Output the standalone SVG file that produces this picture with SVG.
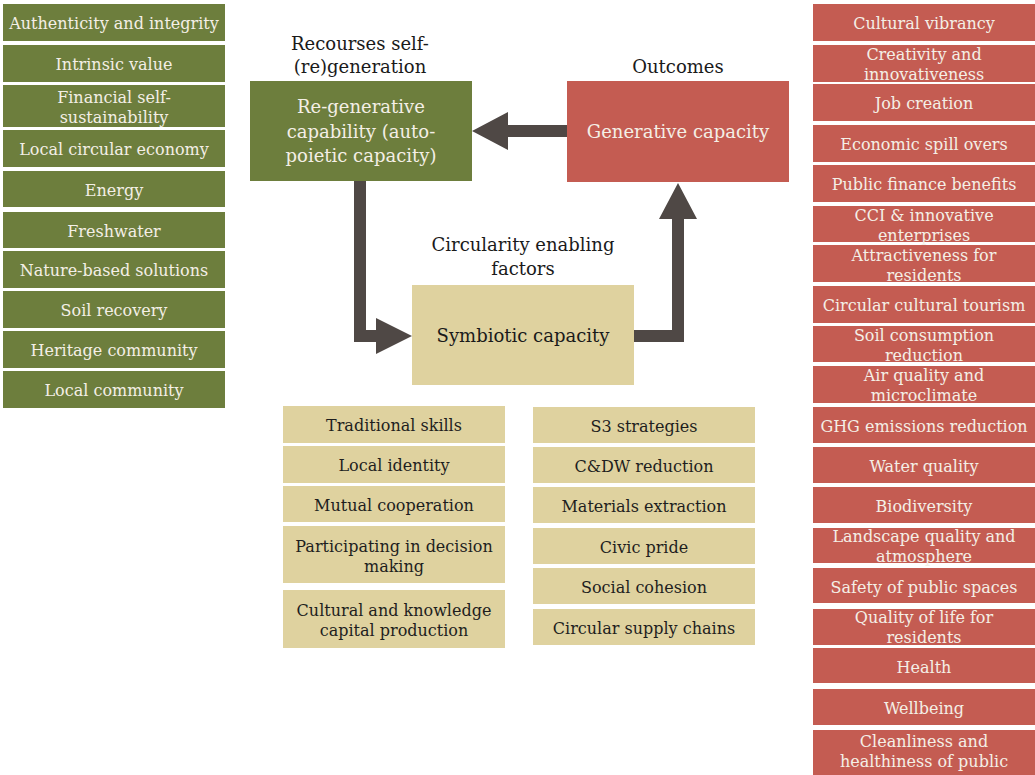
<svg xmlns="http://www.w3.org/2000/svg" width="1035" height="775" viewBox="0 0 1035 775">
<style>
text{font-family:"DejaVu Serif","Liberation Serif",serif;text-anchor:middle}
.g{fill:#6d7e3d}
.r{fill:#c45c52}
.t{fill:#dfd29f}
.lt{font-size:16px;fill:#f4efe6}
.dk{font-size:16px;fill:#1e1e1e}
.big{font-size:18px}
.bw{fill:#f4efe6}
.bk{fill:#1a1a1a}
.arr{fill:#4f4845}
</style>
<rect width="1035" height="775" fill="#ffffff"/>
<g id="connectors">
<polygon class="arr" points="567,125 508,125 508,112 472,131 508,150 508,137 567,137"/>
<polygon class="arr" points="354,181 366,181 366,330 376,330 376,318 412,336 376,354 376,342 354,342"/>
<polygon class="arr" points="634,330 672,330 672,219 659,219 678,183 697,219 684,219 684,342 634,342"/>
</g>
<g id="regenerative">
<rect class="g" x="250" y="81" width="222" height="100"/>
<text class="big bw" x="361" y="113">Re-generative</text>
<text class="big bw" x="361" y="138">capability (auto-</text>
<text class="big bw" x="361" y="162">poietic capacity)</text>
</g>
<g id="label-resources">
<text class="big bk" x="360" y="50">Recourses self-</text>
<text class="big bk" x="360" y="73">(re)generation</text>
</g>
<g id="generative">
<rect class="r" x="567" y="81" width="222" height="101"/>
<text class="big bw" x="678" y="138">Generative capacity</text>
</g>
<g id="label-outcomes">
<text class="big bk" x="678" y="73">Outcomes</text>
</g>
<g id="symbiotic">
<rect class="t" x="412" y="285" width="222" height="100"/>
<text class="big bk" x="523" y="342">Symbiotic capacity</text>
</g>
<g id="label-circularity">
<text class="big bk" x="523" y="251">Circularity enabling</text>
<text class="big bk" x="523" y="275">factors</text>
</g>
<g id="left-list">
<g id="l1"><rect class="g" x="3" y="4" width="222" height="37"/><text class="lt" x="114" y="29">Authenticity and integrity</text></g>
<g id="l2"><rect class="g" x="3" y="45" width="222" height="37"/><text class="lt" x="114" y="70">Intrinsic value</text></g>
<g id="l3"><rect class="g" x="3" y="85" width="222" height="42"/><text class="lt" x="114" y="103">Financial self-</text><text class="lt" x="114" y="123">sustainability</text></g>
<g id="l4"><rect class="g" x="3" y="130" width="222" height="37"/><text class="lt" x="114" y="155">Local circular economy</text></g>
<g id="l5"><rect class="g" x="3" y="171" width="222" height="36"/><text class="lt" x="114" y="196">Energy</text></g>
<g id="l6"><rect class="g" x="3" y="212" width="222" height="36"/><text class="lt" x="114" y="237">Freshwater</text></g>
<g id="l7"><rect class="g" x="3" y="251" width="222" height="37"/><text class="lt" x="114" y="276">Nature-based solutions</text></g>
<g id="l8"><rect class="g" x="3" y="291" width="222" height="37"/><text class="lt" x="114" y="316">Soil recovery</text></g>
<g id="l9"><rect class="g" x="3" y="331" width="222" height="37"/><text class="lt" x="114" y="356">Heritage community</text></g>
<g id="l10"><rect class="g" x="3" y="371" width="222" height="37"/><text class="lt" x="114" y="396">Local community</text></g>
</g>
<g id="right-list">
<g id="r1"><rect class="r" x="813" y="4" width="222" height="37"/><text class="lt" x="924" y="29">Cultural vibrancy</text></g>
<g id="r2"><rect class="r" x="813" y="45" width="222" height="37"/><text class="lt" x="924" y="60">Creativity and</text><text class="lt" x="924" y="80">innovativeness</text></g>
<g id="r3"><rect class="r" x="813" y="84" width="222" height="37"/><text class="lt" x="924" y="109">Job creation</text></g>
<g id="r4"><rect class="r" x="813" y="125" width="222" height="37"/><text class="lt" x="924" y="150">Economic spill overs</text></g>
<g id="r5"><rect class="r" x="813" y="165" width="222" height="37"/><text class="lt" x="924" y="190">Public finance benefits</text></g>
<g id="r6"><rect class="r" x="813" y="206" width="222" height="36"/><text class="lt" x="924" y="221">CCI &amp; innovative</text><text class="lt" x="924" y="241">enterprises</text></g>
<g id="r7"><rect class="r" x="813" y="245" width="222" height="37"/><text class="lt" x="924" y="261">Attractiveness for</text><text class="lt" x="924" y="281">residents</text></g>
<g id="r8"><rect class="r" x="813" y="286" width="222" height="37"/><text class="lt" x="924" y="311">Circular cultural tourism</text></g>
<g id="r9"><rect class="r" x="813" y="326" width="222" height="36"/><text class="lt" x="924" y="341">Soil consumption</text><text class="lt" x="924" y="361">reduction</text></g>
<g id="r10"><rect class="r" x="813" y="366" width="222" height="37"/><text class="lt" x="924" y="381">Air quality and</text><text class="lt" x="924" y="401">microclimate</text></g>
<g id="r11"><rect class="r" x="813" y="407" width="222" height="36"/><text class="lt" x="924" y="432">GHG emissions reduction</text></g>
<g id="r12"><rect class="r" x="813" y="447" width="222" height="36"/><text class="lt" x="924" y="472">Water quality</text></g>
<g id="r13"><rect class="r" x="813" y="487" width="222" height="36"/><text class="lt" x="924" y="512">Biodiversity</text></g>
<g id="r14"><rect class="r" x="813" y="528" width="222" height="35"/><text class="lt" x="924" y="542">Landscape quality and</text><text class="lt" x="924" y="562">atmosphere</text></g>
<g id="r15"><rect class="r" x="813" y="568" width="222" height="35"/><text class="lt" x="924" y="593">Safety of public spaces</text></g>
<g id="r16"><rect class="r" x="813" y="609" width="222" height="36"/><text class="lt" x="924" y="623">Quality of life for</text><text class="lt" x="924" y="643">residents</text></g>
<g id="r17"><rect class="r" x="813" y="648" width="222" height="35"/><text class="lt" x="924" y="673">Health</text></g>
<g id="r18"><rect class="r" x="813" y="689" width="222" height="36"/><text class="lt" x="924" y="714">Wellbeing</text></g>
<g id="r19"><rect class="r" x="813" y="730" width="222" height="50"/><text class="lt" x="924" y="747">Cleanliness and</text><text class="lt" x="924" y="767">healthiness of public</text></g>
</g>
<g id="enabling-left">
<g id="e1"><rect class="t" x="283" y="406" width="222" height="37"/><text class="dk" x="394" y="431">Traditional skills</text></g>
<g id="e2"><rect class="t" x="283" y="446" width="222" height="37"/><text class="dk" x="394" y="471">Local identity</text></g>
<g id="e3"><rect class="t" x="283" y="486" width="222" height="36"/><text class="dk" x="394" y="511">Mutual cooperation</text></g>
<g id="e4"><rect class="t" x="283" y="526" width="222" height="57"/><text class="dk" x="394" y="552">Participating in decision</text><text class="dk" x="394" y="572">making</text></g>
<g id="e5"><rect class="t" x="283" y="590" width="222" height="58"/><text class="dk" x="394" y="616">Cultural and knowledge</text><text class="dk" x="394" y="636">capital production</text></g>
</g>
<g id="enabling-right">
<g id="f1"><rect class="t" x="533" y="407" width="222" height="36"/><text class="dk" x="644" y="432">S3 strategies</text></g>
<g id="f2"><rect class="t" x="533" y="447" width="222" height="36"/><text class="dk" x="644" y="472">C&amp;DW reduction</text></g>
<g id="f3"><rect class="t" x="533" y="487" width="222" height="36"/><text class="dk" x="644" y="512">Materials extraction</text></g>
<g id="f4"><rect class="t" x="533" y="528" width="222" height="36"/><text class="dk" x="644" y="553">Civic pride</text></g>
<g id="f5"><rect class="t" x="533" y="568" width="222" height="36"/><text class="dk" x="644" y="593">Social cohesion</text></g>
<g id="f6"><rect class="t" x="533" y="609" width="222" height="36"/><text class="dk" x="644" y="634">Circular supply chains</text></g>
</g>
</svg>
